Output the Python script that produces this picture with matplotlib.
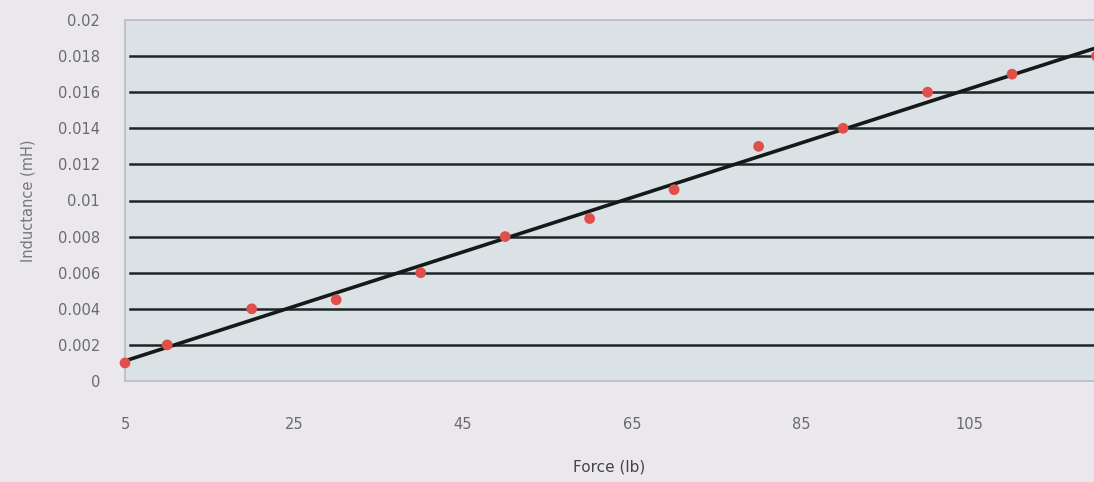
import matplotlib
matplotlib.use("Agg")
import matplotlib.pyplot as plt
import numpy as np

force = [5, 10, 20, 30, 40, 50, 60, 70, 80, 90, 100, 110, 120]
inductance = [0.001, 0.002, 0.004, 0.0045, 0.006, 0.008, 0.009, 0.0106, 0.013, 0.014, 0.016, 0.017, 0.018]
x_ticks = [5, 25, 45, 65, 85, 105]
y_ticks = [0, 0.002, 0.004, 0.006, 0.008, 0.01, 0.012, 0.014, 0.016, 0.018, 0.02]
y_tick_labels = ["0", "0.002", "0.004", "0.006", "0.008", "0.01", "0.012", "0.014", "0.016", "0.018", "0.02"]

plt.rcParams['font.family'] = ['DejaVu Sans']

fig = plt.figure(figsize=(10.94, 4.82), dpi=100, facecolor="#ebe8ed")
ax = fig.add_axes([125/1094, 101/482, 1 - 125/1094, 361/482])
ax.set_facecolor("#dbe2e6")
ax.set_xlim(5, 119.7)
ax.set_ylim(0, 0.02)

for y in y_ticks[1:-1]:
    ax.axhline(y, xmin=0.005, xmax=1, color="#1e2626", lw=1.8, zorder=1)

for s in ["left", "bottom", "top"]:
    ax.spines[s].set_color("#b9bcc0")
    ax.spines[s].set_linewidth(1.2)
ax.spines["right"].set_visible(False)

ax.set_xticks(x_ticks)
ax.set_xticklabels([str(v) for v in x_ticks])
ax.set_yticks(y_ticks)
ax.set_yticklabels(y_tick_labels)
ax.tick_params(length=0, colors="#6a6a6a", labelsize=10.5)
ax.tick_params(axis="x", pad=26)
ax.tick_params(axis="y", pad=18)

coef = np.polyfit(force, inductance, 1)
xs = np.array([5, 119.7])
ax.plot(xs, np.polyval(coef, xs), color="#141a18", lw=2.6, zorder=2)
ax.scatter(force, inductance, s=60, color="#e0504a", zorder=3, clip_on=False, edgecolors="none")

ax.set_xlabel("Force (lb)", color="#444444", fontsize=11, labelpad=20)
ax.set_ylabel("Inductance (mH)", color="#777777", fontsize=10.5, labelpad=16)

fig.savefig("out.png", dpi=100, facecolor=fig.get_facecolor())
